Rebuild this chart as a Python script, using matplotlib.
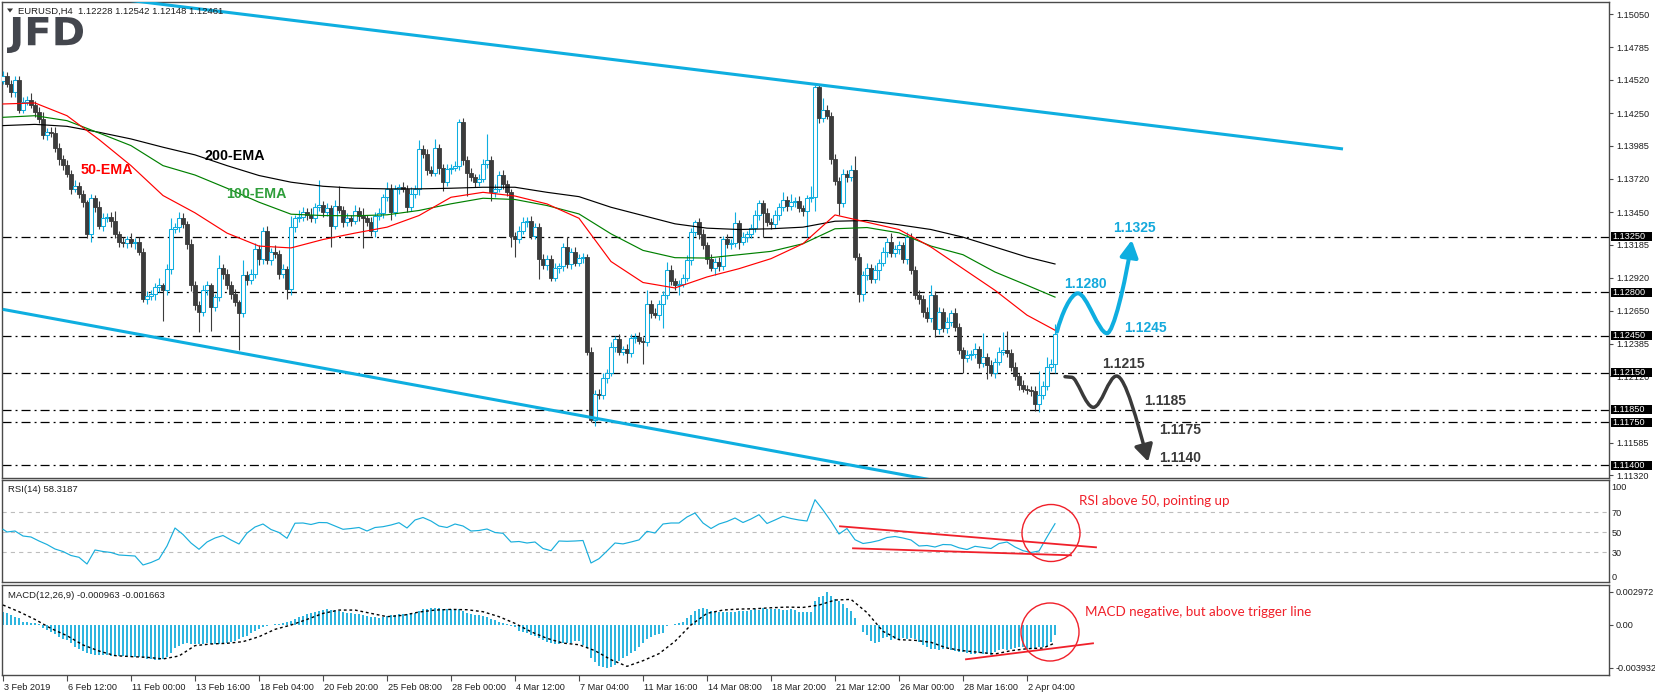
import numpy as np
import matplotlib
matplotlib.use("Agg")
import matplotlib.pyplot as plt
from matplotlib.patches import Rectangle, Ellipse, FancyArrowPatch, PathPatch, Polygon
from matplotlib.path import Path
from matplotlib.textpath import TextPath
from matplotlib.font_manager import FontProperties
from matplotlib.transforms import Affine2D, ScaledTranslation, blended_transform_factory

plt.rcParams['font.family'] = ['Liberation Sans', 'DejaVu Sans']
plt.rcParams['lines.scale_dashes'] = False

# ---------------- data ----------------
BASE = 1.1000
PIP = 0.0001
first_open_pips = 451
close_pips = [
    455, 449, 442, 452, 428, 434, 436, 432, 426, 420,
    407, 410, 409, 397, 388, 383, 376, 364, 366, 360,
    353, 327, 356, 349, 334, 340, 341, 338, 327, 321,
    320, 323, 320, 321, 313, 275, 277, 279, 284, 286,
    282, 299, 331, 333, 340, 335, 319, 286, 270, 264,
    282, 286, 268, 276, 300, 295, 286, 279, 272, 263,
    294, 290, 295, 315, 307, 330, 306, 313, 311, 295,
    299, 283, 333, 340, 341, 345, 343, 340, 349, 351,
    345, 348, 334, 350, 347, 337, 340, 338, 346, 342,
    340, 337, 330, 342, 344, 357, 364, 345, 364, 365,
    364, 349, 360, 364, 396, 392, 379, 377, 397, 381,
    369, 380, 381, 382, 418, 387, 377, 373, 369, 372,
    384, 387, 361, 364, 375, 368, 361, 326, 323, 330,
    337, 338, 326, 333, 307, 302, 307, 292, 300, 301,
    317, 303, 313, 304, 308, 309, 232, 177, 198, 197,
    211, 215, 236, 242, 232, 234, 231, 243, 244, 241,
    240, 271, 263, 262, 271, 278, 298, 289, 286, 287,
    292, 306, 329, 337, 327, 318, 307, 300, 305, 301,
    323, 319, 320, 336, 321, 325, 327, 332, 343, 352,
    344, 337, 335, 343, 349, 355, 350, 353, 354, 348,
    346, 356, 357, 446, 421, 428, 423, 388, 370, 352,
    376, 373, 379, 309, 279, 294, 300, 291, 298, 304,
    313, 321, 312, 315, 318, 307, 325, 298, 278, 275,
    264, 259, 278, 250, 264, 251, 256, 263, 252, 233,
    227, 229, 230, 234, 223, 228, 221, 215, 224, 232,
    233, 231, 220, 212, 205, 202, 201, 200, 190, 197,
    204, 220, 222.3, 246.1]
up_wick_pips = [
    4, 3, 3, 3, 3, 4, 3, 5, 3, 4,
    6, 3, 4, 5, 4, 3, 4, 3, 5, 3,
    3, 2, 4, 3, 5, 4, 3, 4, 8, 3,
    4, 3, 5, 3, 4, 3, 4, 3, 4, 6,
    2, 4, 9, 3, 5, 4, 3, 4, 3, 3,
    4, 3, 2, 3, 10, 3, 4, 3, 4, 2,
    12, 3, 4, 5, 3, 3, 4, 3, 5, 3,
    4, 2, 9, 3, 6, 4, 3, 5, 3, 20,
    3, 4, 3, 5, 16, 3, 4, 3, 5, 3,
    6, 3, 4, 3, 4, 3, 5, 4, 3, 3,
    4, 3, 5, 3, 7, 3, 4, 3, 7, 3,
    3, 4, 3, 4, 2, 3, 3, 4, 3, 4,
    4, 21, 3, 4, 3, 4, 3, 3, 3, 4,
    4, 3, 4, 3, 3, 4, 3, 3, 4, 3,
    3, 8, 3, 4, 3, 3, 2, 4, 3, 4,
    4, 3, 4, 3, 4, 3, 4, 3, 3, 4,
    3, 11, 3, 4, 3, 3, 7, 4, 3, 3,
    3, 4, 3, 2, 3, 4, 3, 4, 3, 4,
    3, 4, 3, 9, 3, 4, 3, 3, 4, 3,
    3, 4, 3, 4, 3, 6, 3, 7, 3, 4,
    3, 3, 9, 2, 3, 9, 4, 3, 4, 3,
    4, 3, 4, 11, 3, 3, 4, 3, 4, 3,
    4, 3, 7, 3, 4, 3, 4, 3, 3, 4,
    3, 4, 8, 3, 4, 3, 4, 3, 4, 3,
    3, 4, 3, 5, 3, 19, 3, 4, 3, 4,
    15, 16, 3, 4, 3, 4, 3, 3, 4, 19,
    4, 8, 4, 8.1]
down_wick_pips = [
    2, 3, 4, 4, 3, 3, 2, 3, 4, 3,
    3, 4, 3, 3, 5, 4, 3, 4, 3, 4,
    4, 3, 6, 4, 3, 4, 3, 5, 3, 4,
    3, 4, 3, 5, 3, 3, 4, 3, 5, 4,
    25, 4, 4, 3, 4, 3, 4, 5, 4, 16,
    3, 4, 19, 3, 3, 4, 3, 4, 3, 30,
    3, 4, 3, 3, 5, 4, 3, 4, 3, 4,
    3, 8, 5, 4, 3, 3, 4, 3, 4, 3,
    4, 3, 17, 3, 3, 4, 3, 4, 3, 4,
    24, 3, 4, 5, 3, 4, 3, 6, 3, 4,
    3, 4, 3, 4, 5, 3, 4, 3, 3, 5,
    7, 3, 4, 3, 3, 4, 19, 3, 4, 3,
    3, 3, 7, 4, 3, 4, 3, 9, 14, 3,
    3, 4, 3, 3, 16, 3, 4, 3, 3, 4,
    4, 3, 4, 3, 3, 4, 3, 2, 5, 3,
    3, 4, 3, 4, 3, 3, 8, 3, 4, 3,
    18, 3, 4, 3, 4, 20, 3, 3, 4, 8,
    3, 3, 4, 3, 4, 3, 4, 3, 6, 4,
    3, 3, 4, 3, 6, 3, 4, 3, 3, 4,
    19, 3, 4, 3, 4, 3, 4, 3, 4, 3,
    4, 21, 3, 11, 4, 3, 3, 4, 3, 9,
    3, 4, 3, 3, 7, 6, 4, 3, 3, 8,
    3, 4, 3, 3, 4, 3, 4, 3, 3, 4,
    4, 3, 3, 6, 4, 3, 4, 3, 3, 3,
    12, 3, 4, 3, 4, 3, 11, 3, 4, 3,
    3, 3, 4, 3, 4, 3, 3, 4, 6, 7,
    3, 3, 4, 7.5]

x_label_bars = list(range(0, 257, 16))
x_labels = ['3 Feb 2019', '6 Feb 12:00', '11 Feb 00:00', '13 Feb 16:00', '18 Feb 04:00',
            '20 Feb 20:00', '25 Feb 08:00', '28 Feb 00:00', '4 Mar 12:00', '7 Mar 04:00',
            '11 Mar 16:00', '14 Mar 08:00', '18 Mar 20:00', '21 Mar 12:00', '26 Mar 00:00',
            '28 Mar 16:00', '2 Apr 04:00']

ema_bars = list(range(0, 257, 8)) + [263]
ema50_pips = [432.5, 433.3, 423, 403.7, 382.6, 358.4, 344.4, 328, 317.5, 316,
              322.8, 328, 332.8, 342.2, 357, 361, 358, 351.6, 340, 305,
              288, 283.6, 292.5, 299.2, 307.3, 319.4, 342.7, 336.8, 330.9, 316.7,
              299.2, 281.7, 261.6, 249.4]
ema100_pips = [421.7, 423, 419, 409, 398.8, 382.6, 375, 364.3, 353, 343.3,
               342.2, 342, 342.8, 346.3, 351.7, 356.2, 355.2, 350.3, 343.5, 327.4,
               314, 308.1, 307.8, 310.5, 313.2, 319.4, 331.5, 332.5, 328.2, 317.5,
               310.5, 296.5, 285.8, 276.2]
ema200_pips = [415, 416, 414.4, 409.6, 404.2, 397.5, 391.3, 382.6, 374.6, 369.2,
               365.9, 364.3, 363.8, 363.8, 364.3, 365.1, 365.1, 361, 357.5, 348.9,
               342.2, 335.5, 332, 330.9, 331.5, 332.8, 337.6, 338.2, 334.7, 330.9,
               324.7, 316.7, 308.6, 303]

rsi_bars = [0] + list(range(1, 264, 2))
rsi_values = [52.7,
              50, 51, 46, 45, 41, 37.5, 33, 30.5, 26.5, 24.7,
              18, 32, 30.5, 29.5, 27, 26.5, 26, 17, 19.5, 23,
              36, 54, 47.5, 39, 32.7, 40, 44, 46.5, 42, 38,
              48.9, 55, 58, 52.5, 49.5, 43.7, 58.8, 59, 57.5, 59.5,
              59.3, 56, 52.7, 53.5, 54.5, 51, 54.5, 55.3, 57, 59.3,
              54, 62, 64.5, 61, 56, 54.5, 58, 56, 51, 51.5,
              53, 49.5, 48.7, 40, 40.5, 39, 40, 33.5, 31.3, 41,
              40.7, 41, 41.5, 19, 23.3, 31, 39, 38.1, 40, 42.1,
              50.7, 49, 58, 59, 59, 65, 69, 59, 53.5, 58,
              60.5, 64, 59.5, 63, 67.3, 58.5, 62, 65.7, 63.5, 62,
              61, 82.3, 72, 60.7, 48, 53.5, 42.3, 38.5, 39.7, 41.5,
              44.5, 45.5, 44, 42, 36, 36.5, 35, 37.5, 37.2, 34.2,
              32.5, 35.7, 34.6, 33.5, 38.5, 40, 35, 31.3, 29.5, 31,
              45, 58.3]

macd_hist_e5 = [
    118, 103, 88, 73, 57, 27, 21, 18, 12, 6,
    -34, -49, -64, -85, -109, -127, -139, -170, -199, -223,
    -235, -260, -269, -275, -275, -275, -278, -281, -284, -284,
    -284, -287, -290, -293, -296, -302, -308, -314, -320, -320,
    -311, -290, -254, -214, -193, -175, -169, -172, -175, -175,
    -172, -169, -172, -175, -178, -175, -169, -160, -148, -133,
    -115, -100, -79, -58, -40, -24, -12, -3, 3, 6,
    12, 21, 36, 48, 67, 79, 97, 109, 118, 127,
    133, 139, 136, 133, 127, 118, 109, 103, 97, 94,
    88, 82, 73, 67, 60, 67, 79, 85, 91, 94,
    97, 100, 103, 109, 124, 139, 145, 148, 148, 148,
    145, 142, 139, 133, 145, 121, 109, 97, 91, 85,
    79, 73, 54, 42, 27, 18, 6, -8, -24, -55,
    -70, -79, -94, -103, -124, -139, -154, -169, -175, -178,
    -166, -166, -166, -151, -151, -181, -211, -300, -340, -372,
    -388, -393, -382, -363, -333, -302, -281, -257, -242, -206,
    -169, -127, -109, -97, -85, -76, -15, -5, 3, 12,
    24, 60, 88, 124, 145, 151, 145, 124, 115, 115,
    115, 112, 115, 115, 121, 124, 121, 130, 145, 136,
    151, 145, 145, 145, 139, 130, 130, 145, 130, 115,
    115, 115, 115, 212, 249, 264, 297, 264, 230, 215,
    185, 154, 124, 64, -5, -66, -97, -151, -163, -157,
    -121, -112, -142, -127, -127, -121, -127, -118, -127, -157,
    -187, -202, -218, -218, -233, -224, -212, -233, -242, -248,
    -248, -254, -263, -263, -254, -263, -263, -272, -248, -233,
    -224, -233, -218, -212, -202, -202, -218, -224, -218, -202,
    -202, -193, -157, -96]
macd_signal_bars = list(range(0, 261, 4)) + [263]
macd_signal_e5 = [179, 118, 48, -34, -100, -184, -239, -281, -290, -296,
                  -311, -284, -190, -175, -169, -154, -109, -42, -3, 48,
                  103, 133, 133, 103, 73, 85, 115, 133, 139, 136,
                  118, 73, 12, -64, -124, -167, -182, -236, -318, -378,
                  -327, -263, -151, -2, 103, 133, 142, 145, 154, 160,
                  157, 178, 224, 230, 110, -60, -136, -142, -160, -212,
                  -236, -251, -266, -236, -218, -212, -166]

levels = [1.1325, 1.1280, 1.1245, 1.1215, 1.1185, 1.1175, 1.1140]
price_ticks = [1.15050, 1.14785, 1.14520, 1.14250, 1.13985, 1.13720, 1.13450,
               1.13185, 1.12920, 1.12650, 1.12385, 1.12120, 1.11585, 1.11320]

upper_channel_x = [0, 335]
upper_channel_y = [1.15289, 1.13961]
lower_channel_x = [-0.075, 235]
lower_channel_y = [1.12663, 1.11265]

# scenario paths (bar, price)
bull_path = [(263.5, 1.12482), (264.6, 1.12620), (266.9, 1.127927), (268.75, 1.127927),
             (270.9, 1.127927), (273.9, 1.12469), (276.0, 1.12469),
             (277.6, 1.12469), (280.6, 1.12880), (282.2, 1.132241)]
bear_path = [(265.5, 1.121178), (267.2, 1.121129),
             (268.6, 1.12110), (270.6, 1.118701), (272.6, 1.118701),
             (274.6, 1.118701), (276.4, 1.121234), (278.4, 1.121234),
             (280.6, 1.121234), (283.6, 1.11750), (286.3, 1.114298)]
bull_labels = [('1.1325', 282.75, 1.133212), ('1.1280', 270.6, 1.128680), ('1.1245', 285.6, 1.125119)]
bear_labels = [('1.1215', 280.0, 1.122205), ('1.1185', 290.6, 1.119211),
               ('1.1175', 294.25, 1.116904), ('1.1140', 294.25, 1.114598)]
ema_labels = [('50-EMA', 26.0, 1.137866, '#FF0000'),
              ('200-EMA', 58.0, 1.139039, 'black'),
              ('100-EMA', 63.25, 1.136004, '#2E9E3A')]

rsi_upper_line = ([209.25, 273.25], [55.7, 34.7])
rsi_lower_line = ([212.5, 267.0], [33.7, 26.7])
macd_line = ([240.75, 272.5], [-0.003143, -0.00169])

# ---------------- figure ----------------
W, H = 1655, 696
fig = plt.figure(figsize=(W / 100, H / 100), dpi=100)
fig.patch.set_facecolor('white')


def axrect(x0, y0, x1, y1):
    return [x0 / W, 1 - y1 / H, (x1 - x0) / W, (y1 - y0) / H]


ax = fig.add_axes(axrect(2, 2, 1609, 478))
ax_rsi = fig.add_axes(axrect(2, 480, 1609, 582))
ax_macd = fig.add_axes(axrect(2, 585, 1609, 675))

XMIN, XMAX = -0.25, 401.5
PMIN, PMAX = 1.112979, 1.151503

CYAN = '#0EAEE0'
BEAR = '#3C3C3C'
AXC = '#4A4A4A'
TXT = '#1E1E1E'

for a in (ax, ax_rsi, ax_macd):
    a.set_xlim(XMIN, XMAX)
    for s in a.spines.values():
        s.set_color(AXC)
        s.set_linewidth(1.0)
    a.yaxis.tick_right()
    a.tick_params(axis='y', direction='out', length=3, width=0.8, colors=AXC,
                  labelsize=6.6, labelcolor=TXT, pad=2)
    a.tick_params(axis='x', bottom=False, labelbottom=False)
    a.set_facecolor('white')

# ---- candles ----
n = len(close_pips)
bars = np.arange(n)
c = BASE + np.array(close_pips, float) * PIP
o = np.concatenate([[BASE + first_open_pips * PIP], c[:-1]])
hi = np.maximum(o, c) + np.array(up_wick_pips, float) * PIP
lo = np.minimum(o, c) - np.array(down_wick_pips, float) * PIP
bull = c >= o
wcol = [CYAN if b else BEAR for b in bull]
ax.vlines(bars, lo, hi, colors=wcol, lw=0.8, zorder=3)
bw = 0.78
for i in range(n):
    bot = min(o[i], c[i])
    h = max(abs(c[i] - o[i]), 0.25 * PIP)
    if bull[i]:
        ax.add_patch(Rectangle((i - bw / 2, bot), bw, h, fc='white', ec=CYAN, lw=0.75, zorder=4))
    else:
        ax.add_patch(Rectangle((i - bw / 2, bot), bw, h, fc=BEAR, ec=BEAR, lw=0.6, zorder=4))

# ---- EMAs ----
ax.plot(ema_bars, BASE + np.array(ema200_pips) * PIP, color='black', lw=0.85, zorder=5)
ax.plot(ema_bars, BASE + np.array(ema100_pips) * PIP, color='#008000', lw=0.85, zorder=5)
ax.plot(ema_bars, BASE + np.array(ema50_pips) * PIP, color='#FF0000', lw=0.85, zorder=5)

# ---- levels ----
for lv in levels:
    ax.axhline(lv, color='black', lw=0.9, dashes=(6.5, 2.9, 1.4, 2.9), zorder=2)

# ---- channels ----
ax.plot(upper_channel_x, upper_channel_y, color=CYAN, lw=2.2, zorder=6, solid_capstyle='butt')
ax.plot(lower_channel_x, lower_channel_y, color=CYAN, lw=2.2, zorder=6, solid_capstyle='butt')

ax.set_ylim(PMIN, PMAX)
ax.set_yticks(price_ticks)
ax.set_yticklabels([f'{t:.5f}' for t in price_ticks])

# level boxes on the right axis
px_per_price = 476 / (PMAX - PMIN)
btr = blended_transform_factory(ax.transAxes, ax.transData)
for lv in levels:
    ax.add_patch(Rectangle((1 + 1.5 / 1607, lv - 4.6 / px_per_price), 41 / 1607, 9.2 / px_per_price,
                           transform=btr, fc='black', ec='none', clip_on=False, zorder=10))
    ax.text(1 + 3.5 / 1607, lv, f'{lv:.5f}', transform=btr, color='white', fontsize=6.6,
            ha='left', va='center', clip_on=False, zorder=11)

# EMA labels
bold = dict(family=['Liberation Sans', 'DejaVu Sans'], weight='bold')
for t, bx, by, col in ema_labels:
    ax.text(bx, by, t, color=col, fontsize=10.3, ha='center', va='center', zorder=8, **bold)


# scenario arrows
def make_path(pts, first_line=False):
    codes = [Path.MOVETO]
    if first_line:
        codes.append(Path.LINETO)
        rest = len(pts) - 2
    else:
        rest = len(pts) - 1
    codes += [Path.CURVE4] * rest
    return Path(pts, codes)


bull_arrow = FancyArrowPatch(path=make_path(bull_path), arrowstyle='-|>,head_length=0.5,head_width=0.27',
                             mutation_scale=20, lw=2.9, color=CYAN, zorder=9)
ax.add_patch(bull_arrow)
bear_arrow = FancyArrowPatch(path=make_path(bear_path, first_line=True),
                             arrowstyle='-|>,head_length=0.5,head_width=0.28',
                             mutation_scale=20, lw=2.5, color='#3A3A3A', zorder=9)
ax.add_patch(bear_arrow)
for t, bx, by in bull_labels:
    ax.text(bx, by, t, color='#14A9DC', fontsize=10, ha='center', va='center', zorder=9, **bold)
for t, bx, by in bear_labels:
    ax.text(bx, by, t, color='#3A3A3A', fontsize=10, ha='center', va='center', zorder=9, **bold)

# ---- RSI ----
ax_rsi.set_ylim(0, 102)
for lv in (70, 50, 30):
    ax_rsi.axhline(lv, color='#BDBDBD', lw=0.8, dashes=(3, 3), zorder=1)
ax_rsi.plot(rsi_bars, rsi_values, color='#19AEDC', lw=0.85, zorder=3)
ax_rsi.set_yticks([95, 70, 50, 30, 5])
ax_rsi.set_yticklabels(['100', '70', '50', '30', '0'])
ax_rsi.tick_params(axis='y', length=0)
ax_rsi.plot(*rsi_upper_line, color='#F0202A', lw=1.3, zorder=4)
ax_rsi.plot(*rsi_lower_line, color='#F0202A', lw=1.3, zorder=4)
ax_rsi.add_patch(Ellipse((262.0, 49.0), 14.5, 57, fill=False, ec='#F0202A', lw=1.0, zorder=5))
ax_rsi.text(269.0, 80.5, 'RSI above 50, pointing up', color='#F0202A', fontsize=9.6,
            family=['Lato', 'DejaVu Sans'], ha='left', va='center', zorder=6)

# ---- MACD ----
MMIN, MMAX = -0.004569, 0.003607
ax_macd.set_ylim(MMIN, MMAX)
ax_macd.vlines(bars, 0, np.array(macd_hist_e5) * 1e-5, color='#19AEDC', lw=1.3, zorder=2)
ax_macd.plot(macd_signal_bars, np.array(macd_signal_e5) * 1e-5, color='black', lw=1.0,
             dashes=(2, 2), zorder=3)
ax_macd.set_yticks([0.002972, 0.0, -0.003932])
ax_macd.set_yticklabels(['0.002972', '0.00', '-0.003932'])
ax_macd.plot(*macd_line, color='#F0202A', lw=1.3, zorder=4)
macd_px = 90 / (MMAX - MMIN)
ax_macd.add_patch(Ellipse((261.75, -0.000663), 14.5, 58 / macd_px, fill=False, ec='#F0202A', lw=1.0, zorder=5))
ax_macd.text(270.5, 0.00111, 'MACD negative, but above trigger line', color='#F0202A', fontsize=9.6,
             family=['Lato', 'DejaVu Sans'], ha='left', va='center', zorder=6)

ax_macd.set_xticks(x_label_bars)
ax_macd.set_xticklabels(x_labels)
ax_macd.tick_params(axis='x', bottom=True, labelbottom=True, direction='out', length=4, width=0.8,
                    colors=AXC, labelcolor=TXT, labelsize=6.6, pad=1.5)
off = ScaledTranslation(1 / 100, 0, fig.dpi_scale_trans)
for lbl in ax_macd.get_xticklabels():
    lbl.set_ha('left')
    lbl.set_transform(lbl.get_transform() + off)


# ---- headers ----
def ftext(x, y, s, **kw):
    fig.text(x / W, 1 - y / H, s, **kw)


ftext(18, 11, 'EURUSD,H4  1.12228 1.12542 1.12148 1.12461', fontsize=6.8, color=TXT, va='center', ha='left')
fig.add_artist(Polygon([[7 / W, 1 - 8.5 / H], [13 / W, 1 - 8.5 / H], [10 / W, 1 - 12.5 / H]],
                       closed=True, fc='#333333', ec='none', transform=fig.transFigure))
ftext(7.5, 490, 'RSI(14) 58.3187', fontsize=6.8, color=TXT, va='center', ha='left')
ftext(7.5, 595, 'MACD(12,26,9) -0.000963 -0.001663', fontsize=6.8, color=TXT, va='center', ha='left')

# ---- JFD logo ----
fp = FontProperties(family='DejaVu Sans', weight='bold')
tp = TextPath((0, 0), 'JFD', size=100, prop=fp)
bb = tp.get_extents()
sx = 76 / bb.width
sy = 36 / bb.height
tr = Affine2D().translate(-bb.x0, -bb.y0).scale(sx / W, sy / H).translate(7 / W, (H - 53) / H) + fig.transFigure
fig.add_artist(PathPatch(tp, transform=tr, fc='#43464D', ec='none'))

fig.savefig('out.png', dpi=100, facecolor='white')
